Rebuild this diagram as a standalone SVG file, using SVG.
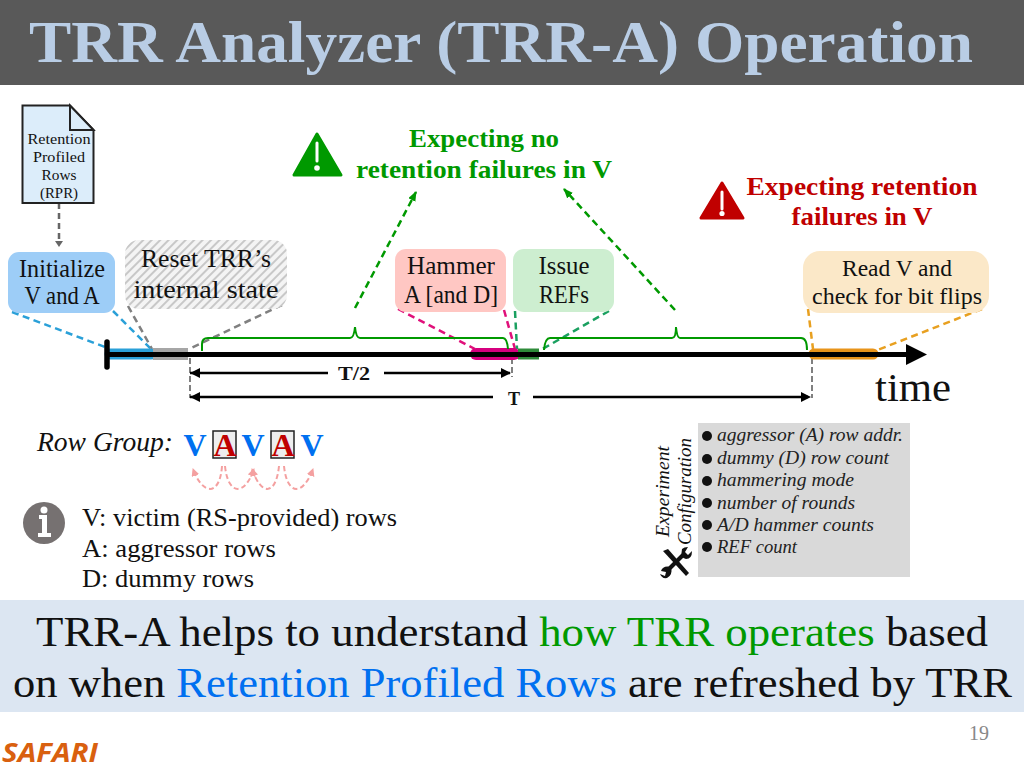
<svg xmlns="http://www.w3.org/2000/svg" width="1024" height="768" viewBox="0 0 1024 768">
<style>
text{font-family:"Liberation Serif",serif;fill:#111;text-anchor:middle}
.l{text-anchor:start}
.b{font-weight:bold}
.i{font-style:italic}
.gt{fill:#009900;font-weight:bold;font-size:26px}
.rt{fill:#c00000;font-weight:bold;font-size:26px}
.n{font-size:25px}
.cfg{font-style:italic;font-size:19px;text-anchor:start;fill:#222}
.dash{fill:none;stroke-width:2.5;stroke-dasharray:7 4.5}
.br{fill:none;stroke:#009900;stroke-width:2}
.dot{fill:#111}
</style>
<defs>
<pattern id="hatch" width="6" height="6" patternUnits="userSpaceOnUse" patternTransform="rotate(-45)">
<rect width="6" height="6" fill="#f4f4f4"/><rect width="6" height="2" fill="#c8c8c8"/>
</pattern>
<marker id="ag" markerWidth="12" markerHeight="10" refX="9" refY="4" orient="auto" markerUnits="userSpaceOnUse"><path d="M0 0L10 4L0 8z" fill="#009900"/></marker>
<marker id="ap" markerWidth="10" markerHeight="10" refX="7" refY="4" orient="auto" markerUnits="userSpaceOnUse"><path d="M0 0L8 4L0 8z" fill="#f4a0a0"/></marker>
</defs>
<rect width="1024" height="768" fill="#fff"/>
<g id="header"><rect width="1024" height="85" fill="#595959"/>
<text x="501" y="62" font-size="60" class="b" style="fill:#b9cde5" textLength="944" lengthAdjust="spacingAndGlyphs">TRR Analyzer (TRR-A) Operation</text></g>

<g id="connectors">
<path d="M59 203V241" fill="none" stroke="#666" stroke-width="2.5" stroke-dasharray="6 4"/><path d="M55 241L63 241L59 247z" fill="#666"/>
<path class="dash" stroke="#2aa0d8" d="M12 312L105 347"/>
<path class="dash" stroke="#2aa0d8" d="M113 311L151 349"/>
<path class="dash" stroke="#808080" d="M128 306L152 349"/>
<path class="dash" stroke="#808080" d="M282 305L189 349"/>
<path class="dash" stroke="#e0107a" d="M398 309L475 349"/>
<path class="dash" stroke="#e0107a" d="M504 310L515 349"/>
<path class="dash" stroke="#1aa060" d="M515 311L517 349"/>
<path class="dash" stroke="#1aa060" d="M609 311L539 351"/>
<path class="dash" stroke="#e8a020" d="M808 309L813 349"/>
<path class="dash" stroke="#e8a020" d="M982 309L875 351"/>
<path class="dash" stroke="#009900" d="M355 308L416 192" marker-end="url(#ag)"/>
<path class="dash" stroke="#009900" d="M675 310L564 189" marker-end="url(#ag)"/>
<path d="M190 358V398M512 358V377M812 358V398" stroke="#808080" stroke-width="2" stroke-dasharray="6 3" fill="none"/>
<path d="M110 354H151" stroke="#2aa0d8" stroke-width="11" stroke-linecap="round"/>
<path d="M153 354H188" stroke="#a6a6a6" stroke-width="12"/>
<path d="M476 354H514" stroke="#d6007f" stroke-width="12" stroke-linecap="round"/>
<path d="M518 354H539" stroke="#2e8b3a" stroke-width="11"/>
<path d="M814 354H873" stroke="#e8941a" stroke-width="11" stroke-linecap="round"/>
<path d="M107 354.500H910" stroke="#000" stroke-width="5"/>
<path d="M906 344L927 354.500L906 365z" fill="#000"/>
<path d="M107 342V367" stroke="#000" stroke-width="5.500" stroke-linecap="round"/>
<path class="br" d="M202 351V344Q202 338 208 338H350Q354 338 355 327Q356 338 360 338H503Q507 338 508 349"/>
<path class="br" d="M544 350Q545 338 550 338H672Q676 338 676 327Q677 338 680 338H801Q807 338 807 350"/>
<path d="M190 373H328M384 373H510" stroke="#000" stroke-width="2.500" fill="none"/>
<path d="M200 368L190 373L200 378zM501 368L511 373L501 378z" fill="#000"/>
<path d="M190 397H493M533 397H808" stroke="#000" stroke-width="2.500" fill="none"/>
<path d="M200 392L190 397L200 402zM801 392L811 397L801 402z" fill="#000"/>
<g stroke="#f4a0a0" stroke-width="2" stroke-dasharray="5 3" fill="none">
<path d="M222 466C220 496 203 496 193 469" marker-end="url(#ap)"/>
<path d="M225 466C228 496 245 496 254 469" marker-end="url(#ap)"/>
<path d="M279 466C276 496 261 496 252 469" marker-end="url(#ap)"/>
<path d="M284 466C287 496 303 496 313 469" marker-end="url(#ap)"/>
</g>
</g>

<g id="rpr"><path d="M22.500 105.500H70L93.500 130V203H22.500z" fill="#dcedfa" stroke="#222" stroke-width="2"/><path d="M70 105.500V130H93.500z" fill="#dcedfa" stroke="#222" stroke-width="2"/>
<text x="59" y="144" font-size="15" textLength="63" lengthAdjust="spacingAndGlyphs">Retention</text>
<text x="59" y="162" font-size="15" textLength="52" lengthAdjust="spacingAndGlyphs">Profiled</text>
<text x="59" y="180" font-size="15" textLength="35" lengthAdjust="spacingAndGlyphs">Rows</text>
<text x="59" y="198" font-size="15" textLength="38" lengthAdjust="spacingAndGlyphs">(RPR)</text></g>

<g id="init"><rect x="8" y="252" width="107" height="61" rx="11" fill="#9dcdf7"/>
<text x="62" y="277" class="n" textLength="86" lengthAdjust="spacingAndGlyphs">Initialize</text>
<text x="62" y="304" class="n" textLength="75" lengthAdjust="spacingAndGlyphs">V and A</text></g>
<g id="reset"><rect x="125" y="240" width="162" height="69" rx="14" fill="url(#hatch)"/>
<text x="206" y="267" class="n" textLength="130" lengthAdjust="spacingAndGlyphs">Reset TRR’s</text>
<text x="206" y="298" class="n" textLength="145" lengthAdjust="spacingAndGlyphs">internal state</text></g>
<g id="hammer"><rect x="395" y="249" width="111" height="63" rx="11" fill="#ffc7c3"/>
<text x="451" y="274" class="n" textLength="88" lengthAdjust="spacingAndGlyphs">Hammer</text>
<text x="451" y="303" class="n" textLength="94" lengthAdjust="spacingAndGlyphs">A [and D]</text></g>
<g id="refs"><rect x="513" y="249" width="101" height="63" rx="11" fill="#cdeed0"/>
<text x="564" y="274" class="n" textLength="51" lengthAdjust="spacingAndGlyphs">Issue</text>
<text x="564" y="303" class="n" textLength="50" lengthAdjust="spacingAndGlyphs">REFs</text></g>
<g id="read"><rect x="803" y="251" width="186" height="62" rx="17" fill="#fbe8c8"/>
<text x="897" y="276" font-size="24" textLength="110" lengthAdjust="spacingAndGlyphs">Read V and</text>
<text x="897" y="304" font-size="24" textLength="170" lengthAdjust="spacingAndGlyphs">check for bit flips</text></g>

<g id="expect-no">
<path d="M317 134L341 175H294z" fill="#009900" stroke="#009900" stroke-width="3" stroke-linejoin="round"/>
<path d="M317 143V161" stroke="#fff" stroke-width="3" stroke-linecap="round"/><circle cx="317" cy="168" r="2.800" fill="#fff"/>
<text x="484" y="147" class="gt" textLength="150" lengthAdjust="spacingAndGlyphs">Expecting no</text>
<text x="484" y="178" class="gt" textLength="256" lengthAdjust="spacingAndGlyphs">retention failures in V</text></g>
<g id="expect-fail">
<path d="M722 183L743 218H701z" fill="#c00000" stroke="#c00000" stroke-width="3" stroke-linejoin="round"/>
<path d="M722 192V209" stroke="#fff" stroke-width="3" stroke-linecap="round"/><circle cx="722" cy="213.500" r="2.600" fill="#fff"/>
<text x="862" y="195" class="rt" textLength="231" lengthAdjust="spacingAndGlyphs">Expecting retention</text>
<text x="862" y="225" class="rt" textLength="141" lengthAdjust="spacingAndGlyphs">failures in V</text></g>

<g id="labels">
<text x="354" y="380" font-size="18" class="b" textLength="32" lengthAdjust="spacingAndGlyphs">T/2</text>
<text x="514" y="405" font-size="18" class="b">T</text>
<text x="913" y="401" font-size="40" textLength="76" lengthAdjust="spacingAndGlyphs">time</text>
</g>

<g id="rowgroup">
<text x="37" y="451" font-size="27" class="i l" textLength="136" lengthAdjust="spacingAndGlyphs">Row Group:</text>
<rect x="213" y="431" width="23" height="27" fill="#eee" stroke="#222" stroke-width="1.500"/><rect x="271" y="431" width="23" height="27" fill="#eee" stroke="#222" stroke-width="1.500"/>
<g class="b" font-size="32"><text x="195" y="456" style="fill:#0070f0">V</text><text x="225" y="456" style="fill:#c00000">A</text><text x="253" y="456" style="fill:#0070f0">V</text><text x="283" y="456" style="fill:#c00000">A</text><text x="312" y="456" style="fill:#0070f0">V</text></g>
</g>

<g id="legend">
<circle cx="44" cy="523" r="21" fill="#767171"/>
<path d="M39 515H47V533H51V537H38V533H42V519H39z" fill="#fff"/><circle cx="44" cy="510" r="3.500" fill="#fff"/>
<text x="82" y="526" class="l" font-size="25" textLength="315" lengthAdjust="spacingAndGlyphs">V: victim (RS-provided) rows</text>
<text x="82" y="557" class="l" font-size="25" textLength="194" lengthAdjust="spacingAndGlyphs">A: aggressor rows</text>
<text x="82" y="587" class="l" font-size="25" textLength="172" lengthAdjust="spacingAndGlyphs">D: dummy rows</text>
</g>

<g id="config">
<rect x="698" y="423" width="212" height="154" fill="#d9d9d9"/>
<text transform="translate(669,537) rotate(-90)" class="i l" font-size="19" textLength="91" lengthAdjust="spacingAndGlyphs">Experiment</text>
<text transform="translate(691,545) rotate(-90)" class="i l" font-size="19" textLength="107" lengthAdjust="spacingAndGlyphs">Configuration</text>
<path d="M663 551L668 549L689 573L686 576Z" fill="#111"/>
<path d="M684 554L668 570" stroke="#111" stroke-width="4"/>
<path d="M682 549Q680 558 686 559Q692 559 692 551L688 555L685 552L688 547Q684 547 682 549Z" fill="#111"/>
<path d="M671 567Q663 565 661 571L666 572L665 576L660 574Q662 579 667 578Q673 575 671 567Z" fill="#111"/>
<circle class="dot" cx="707" cy="436" r="5"/><circle class="dot" cx="707" cy="459" r="5"/><circle class="dot" cx="707" cy="481" r="5"/><circle class="dot" cx="707" cy="503" r="5"/><circle class="dot" cx="707" cy="525" r="5"/><circle class="dot" cx="707" cy="547" r="5"/>
<text x="717" y="441" class="cfg" textLength="186" lengthAdjust="spacingAndGlyphs">aggressor (A) row addr.</text>
<text x="717" y="464" class="cfg" textLength="172" lengthAdjust="spacingAndGlyphs">dummy (D) row count</text>
<text x="717" y="486" class="cfg" textLength="137" lengthAdjust="spacingAndGlyphs">hammering mode</text>
<text x="717" y="509" class="cfg" textLength="138" lengthAdjust="spacingAndGlyphs">number of rounds</text>
<text x="717" y="531" class="cfg" textLength="157" lengthAdjust="spacingAndGlyphs">A/D hammer counts</text>
<text x="717" y="553" class="cfg" textLength="80" lengthAdjust="spacingAndGlyphs">REF count</text>
</g>

<g id="takeaway"><rect y="600" width="1024" height="112" fill="#dce6f2"/>
<text x="36" y="646" class="l" font-size="43" textLength="952" lengthAdjust="spacingAndGlyphs">TRR-A helps to understand <tspan style="fill:#009900">how TRR operates</tspan> based</text>
<text x="13" y="697" class="l" font-size="43" textLength="999" lengthAdjust="spacingAndGlyphs">on when <tspan style="fill:#0070f0">Retention Profiled Rows</tspan> are refreshed by TRR</text></g>

<g id="footer">
<text x="2" y="762" class="l b i" font-size="26" style="font-family:'Open Sans','Liberation Sans',sans-serif;fill:#d9600f" textLength="96" lengthAdjust="spacingAndGlyphs">SAFARI</text>
<text x="979" y="740" font-size="20" style="fill:#888">19</text></g>
</svg>
